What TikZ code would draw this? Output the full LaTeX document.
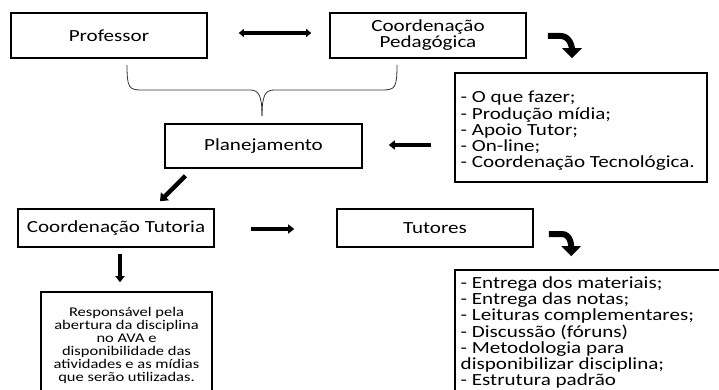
\documentclass[tikz,border=0pt]{standalone}
\usepackage{fontspec}
\setmainfont[FakeStretch=1.24]{Carlito}
\usetikzlibrary{arrows.meta,calc}
\tikzset{
  box/.style={draw=black, line width=1.6pt, rectangle, inner sep=0pt, align=center,
     font=\fontsize{17}{16}\selectfont},
  listtext/.style={inner sep=0pt, align=left, anchor=north west,
     font=\fontsize{17}{16.2}\selectfont},
  smalltext/.style={inner sep=0pt, align=center, anchor=north,
     font=\fontsize{13.3}{13}\selectfont},
  thickarrow/.style={line width=3.5pt, -{Triangle[width=9pt,length=6pt]}},
  bentarrow/.style={line width=6pt, -{Triangle[width=19pt,length=10pt]}},
  bracel/.style={draw=black!80, line width=0.8pt}
}
\begin{document}
\begin{tikzpicture}[x=1pt,y=-1pt]
\useasboundingbox (0,0) rectangle (719,390);
\clip (0,0) rectangle (719,390);
% boxes
\node[box, minimum width=196pt, minimum height=45pt] (prof) at (109,35.5) {Professor};
\node[box, minimum width=196pt, minimum height=45pt] (cped) at (428,35.5) {Coordenação\\Pedagógica};
\node[box, minimum width=197pt, minimum height=44pt] (plan) at (263.5,146) {Planejamento};
\node[box, minimum width=252pt, minimum height=109pt] (list1) at (581,127.5) {};
\node[listtext] (list1t) at (460.5,91) {- O que fazer;\\- Produção mídia;\\- Apoio Tutor;\\- On-line;\\- Coordenação Tecnológica.};
\node[box, minimum width=196pt, minimum height=38pt] (ctut) at (116,228) {Coordenação Tutoria};
\node[box, minimum width=196pt, minimum height=38pt] (tut) at (435,228) {Tutores};
\node[box, minimum width=171pt, minimum height=120pt] (resp) at (126.5,352) {};
\node[smalltext] (respt) at (126.5,307.5) {Responsável pela\\abertura da disciplina\\no AVA e\\disponibilidade das\\atividades e as mídias\\que serão utilizadas.};
\node[box, minimum width=275pt, minimum height=140pt] (list2) at (592.5,340) {};
\node[listtext] (list2t) at (460.5,276.5) {- Entrega dos materiais;\\- Entrega das notas;\\- Leituras complementares;\\- Discussão (fóruns)\\- Metodologia para\\disponibilizar disciplina;\\- Estrutura padrão};
% brace from Professor and Coordenação Pedagógica to Planejamento
\coordinate (bl) at (127,65);
\coordinate (br) at (397,65);
\coordinate (bt) at (262,116);
\draw[bracel] (bl) .. controls (127,88) and (129,90) .. (142,90) -- (250,90)
   .. controls (259,90) and (262,96) .. (bt);
\draw[bracel] (br) .. controls (397,88) and (395,90) .. (382,90) -- (274,90)
   .. controls (265,90) and (262,96) .. (bt);
% straight arrows
\draw[line width=3.2pt, {Triangle[width=8pt,length=5pt]}-{Triangle[width=8pt,length=5pt]}]
  ([xshift=31pt,yshift=2.5pt]prof.east) -- ([xshift=-18pt,yshift=2.5pt]cped.west);
\draw[thickarrow] ([xshift=-23pt,yshift=-17.5pt]list1.west) -- ([xshift=26pt,yshift=1pt]plan.east);
\draw[line width=4.5pt, -{Triangle[width=11pt,length=7pt]}] ([xshift=-78pt,yshift=-7pt]plan.south) -- ([xshift=44pt,yshift=7pt]ctut.north);
\draw[thickarrow] ([xshift=36pt,yshift=-1pt]ctut.east) -- ([xshift=-42pt,yshift=-1pt]tut.west);
\draw[thickarrow] ([xshift=4pt,yshift=-6pt]ctut.south) -- ([xshift=-6.5pt,yshift=9pt]resp.north);
% bent arrows
\coordinate (b1s) at ($(cped.east)+(21pt,-0.5pt)$);
\draw[bentarrow] (b1s) -- ++(13,0) to[out=0,in=90] ([xshift=-9pt,yshift=14pt]list1.north);
\coordinate (b2s) at ($(tut.east)+(15pt,-6pt)$);
\draw[bentarrow] (b2s) -- ++(13,0) to[out=0,in=90] ([xshift=117pt,yshift=13pt]list2.north west);
\end{tikzpicture}
\end{document}
